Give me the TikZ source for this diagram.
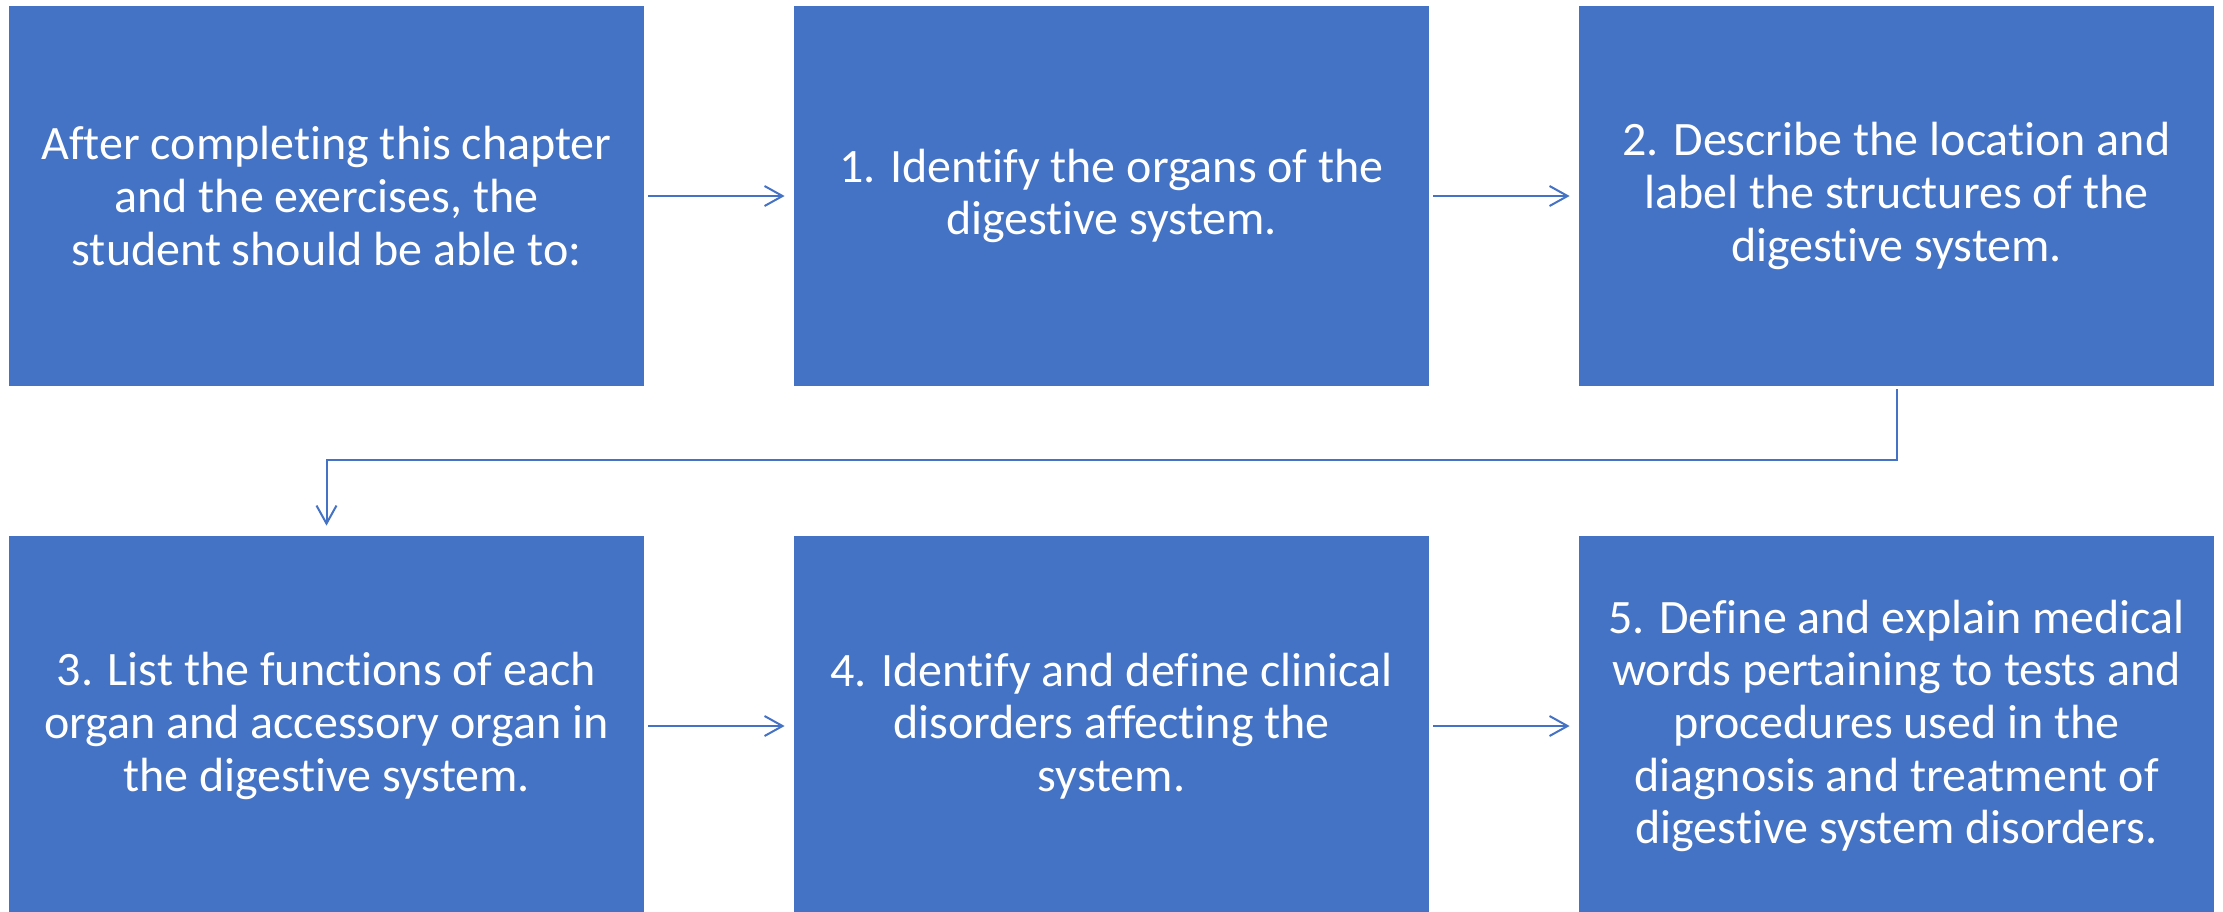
\documentclass[tikz,border=0pt]{standalone}
\usepackage{fontspec}
\setmainfont[Ligatures={NoCommon}]{Carlito}
\usetikzlibrary{arrows.meta}
\definecolor{officeblue}{HTML}{4472C4}
\tikzset{
  objbox/.style={fill=officeblue, draw=none, minimum width=317.5pt, minimum height=190pt, inner sep=0pt,
    text=white, align=center, font=\fontsize{24}{26.3}\selectfont},
  flowarrow/.style={draw=officeblue, line width=1pt, -{Straight Barb[length=9pt,width=10pt,line width=1pt]}}
}
\begin{document}
\begin{tikzpicture}[x=0.5pt,y=-0.5pt]
\useasboundingbox (0,0) rectangle (2223,911);
\begin{scope}
\clip (0,0) rectangle (2223,911);
\node[objbox] (b0) at (326.5,196) {After completing this chapter\\and the exercises, the\\student should be able to:};
\node[objbox] (b1) at (1111.5,196) {1. Identify the organs of the\\digestive system.};
\node[objbox] (b2) at (1896.5,196) {2. Describe the location and\\label the structures of the\\digestive system.};
\node[objbox] (b3) at (326.5,726) {3. List the functions of each\\organ and accessory organ in\\the digestive system.};
\node[objbox] (b4) at (1111.5,726) {4. Identify and define clinical\\disorders affecting the\\system.};
\node[objbox] (b5) at (1896.5,726) {5. Define and explain medical\\words pertaining to tests and\\procedures used in the\\diagnosis and treatment of\\digestive system disorders.};
\end{scope}
\coordinate (e1) at (1896.5,460);
\coordinate (e2) at (326.5,460);
\draw[flowarrow, shorten <=2pt, shorten >=4.5pt] (b0.east) -- (b1.west);
\draw[flowarrow, shorten <=2pt, shorten >=4.5pt] (b1.east) -- (b2.west);
\draw[flowarrow, shorten <=1.5pt, shorten >=5pt] (b2.south) -- (e1) -- (e2) -- (b3.north);
\draw[flowarrow, shorten <=2pt, shorten >=4.5pt] (b3.east) -- (b4.west);
\draw[flowarrow, shorten <=2pt, shorten >=4.5pt] (b4.east) -- (b5.west);
\end{tikzpicture}
\end{document}
